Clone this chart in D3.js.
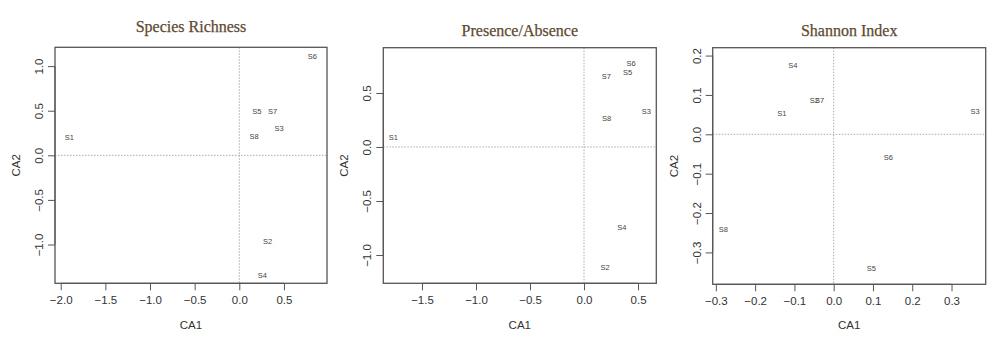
<!DOCTYPE html>
<html><head><meta charset="utf-8">
<script src="https://cdn.jsdelivr.net/npm/d3@7"></script>
<style>body{margin:0;background:#fff}svg{display:block}</style>
</head><body><svg id="c" width="998" height="344"></svg>
<script>
const titles = ["Species Richness", "Presence/Absence", "Shannon Index"];
const sites = ["S1","S2","S3","S4","S5","S6","S7","S8"];
// CA1 / CA2 scores per panel
const richCA1 = [-1.904, 0.318, 0.445, 0.258, 0.195, 0.817, 0.374, 0.165];
const richCA2 = [0.205, -0.961, 0.298, -1.342, 0.489, 1.105, 0.489, 0.213];
const presCA1 = [-1.766, 0.194, 0.577, 0.349, 0.404, 0.435, 0.207, 0.210];
const presCA2 = [0.090, -1.117, 0.333, -0.744, 0.688, 0.775, 0.654, 0.266];
const shanCA1 = [-0.132, -0.049, 0.360, -0.104, 0.096, 0.139, -0.036, -0.281];
const shanCA2 = [0.053, 0.086, 0.059, 0.175, -0.340, -0.058, 0.087, -0.242];
const richXTicks = [-2.0, -1.5, -1.0, -0.5, 0.0, 0.5];
const richYTicks = [-1.0, -0.5, 0.0, 0.5, 1.0];
const presXTicks = [-1.5, -1.0, -0.5, 0.0, 0.5];
const presYTicks = [-1.0, -0.5, 0.0, 0.5];
const shanXTicks = [-0.3, -0.2, -0.1, 0.0, 0.1, 0.2, 0.3];
const shanYTicks = [-0.3, -0.2, -0.1, 0.0, 0.1, 0.2];

const panels = [
  {title: titles[0], x: richCA1, y: richCA2, xt: richXTicks, yt: richYTicks,
   xd: [-2.064, 0.982], yd: [-1.435, 1.211], box: [55, 47.3, 327, 283.3], ty: 31.5},
  {title: titles[1], x: presCA1, y: presCA2, xt: presXTicks, yt: presYTicks,
   xd: [-1.858, 0.669], yd: [-1.262, 0.919], box: [383.3, 47.7, 656.3, 283.3], ty: 35.5},
  {title: titles[2], x: shanCA1, y: shanCA2, xt: shanXTicks, yt: shanYTicks,
   xd: [-0.308, 0.387], yd: [-0.381, 0.220], box: [712.7, 47.7, 985.7, 284.3], ty: 35.5}
];

const svg = d3.select("#c");
const fmt = d3.format(".1f");
const sans = "Liberation Sans, Arial, sans-serif";

panels.forEach(p => {
  const [x0, y0, x1, y1] = p.box;
  const xs = d3.scaleLinear().domain(p.xd).range([x0, x1]);
  const ys = d3.scaleLinear().domain(p.yd).range([y1, y0]);
  const g = svg.append("g");

  // reference lines
  g.append("line").attr("x1", x0).attr("x2", x1).attr("y1", ys(0)).attr("y2", ys(0))
    .attr("stroke", "#aaa").attr("stroke-width", 1).attr("stroke-dasharray", "1.5,1.5");
  g.append("line").attr("y1", y0).attr("y2", y1).attr("x1", xs(0)).attr("x2", xs(0))
    .attr("stroke", "#aaa").attr("stroke-width", 1).attr("stroke-dasharray", "1.5,1.5");

  // box
  g.append("rect").attr("x", x0).attr("y", y0).attr("width", x1 - x0).attr("height", y1 - y0)
    .attr("fill", "none").attr("stroke", "#555").attr("stroke-width", 1.3);

  // x axis
  const xa = g.append("g").attr("transform", `translate(0,${y1})`)
    .call(d3.axisBottom(xs).tickValues(p.xt).tickFormat(fmt).tickSize(7).tickPadding(6).tickSizeOuter(0));
  xa.select(".domain").attr("d", `M${xs(p.xt[0])},0H${xs(p.xt[p.xt.length-1])}`).attr("stroke", "#555");
  xa.selectAll(".tick line").attr("stroke", "#555");
  xa.selectAll("text").attr("font-family", sans).attr("font-size", 11.5).attr("fill", "#333");

  // y axis
  const ya = g.append("g").attr("transform", `translate(${x0},0)`)
    .call(d3.axisLeft(ys).tickValues(p.yt).tickFormat(fmt).tickSize(7).tickPadding(6).tickSizeOuter(0));
  ya.select(".domain").attr("d", `M0,${ys(p.yt[0])}V${ys(p.yt[p.yt.length-1])}`).attr("stroke", "#555");
  ya.selectAll(".tick line").attr("stroke", "#555");
  ya.selectAll(".tick text").attr("font-family", sans).attr("font-size", 11.5).attr("fill", "#333")
    .attr("text-anchor", "middle").attr("x", null).attr("dy", null).attr("dominant-baseline", "central")
    .attr("transform", "translate(-16,0) rotate(-90)");

  // axis titles
  g.append("text").attr("x", (x0 + x1) / 2).attr("y", 329).attr("text-anchor", "middle")
    .attr("font-family", sans).attr("font-size", 11.5).attr("fill", "#333").text("CA1");
  g.append("text").attr("transform", `translate(${x0 - 39},${(y0 + y1) / 2}) rotate(-90)`)
    .attr("text-anchor", "middle").attr("dominant-baseline", "central")
    .attr("font-family", sans).attr("font-size", 11.5).attr("fill", "#333").text("CA2");

  // title
  g.append("text").attr("x", (x0 + x1) / 2).attr("y", p.ty).attr("text-anchor", "middle")
    .attr("font-family", "Liberation Serif, DejaVu Serif, serif").attr("font-size", 16)
    .attr("fill", "#5e4a33").attr("stroke", "#5e4a33").attr("stroke-width", 0.25).text(p.title);

  // site labels
  g.selectAll("text.site").data(sites).enter().append("text").attr("class", "site")
    .attr("x", (d, i) => xs(p.x[i])).attr("y", (d, i) => ys(p.y[i]))
    .attr("text-anchor", "middle").attr("dominant-baseline", "central")
    .attr("font-family", sans).attr("font-size", 7.5).attr("fill", "#444")
    .text(d => d);
});
</script></body></html>
